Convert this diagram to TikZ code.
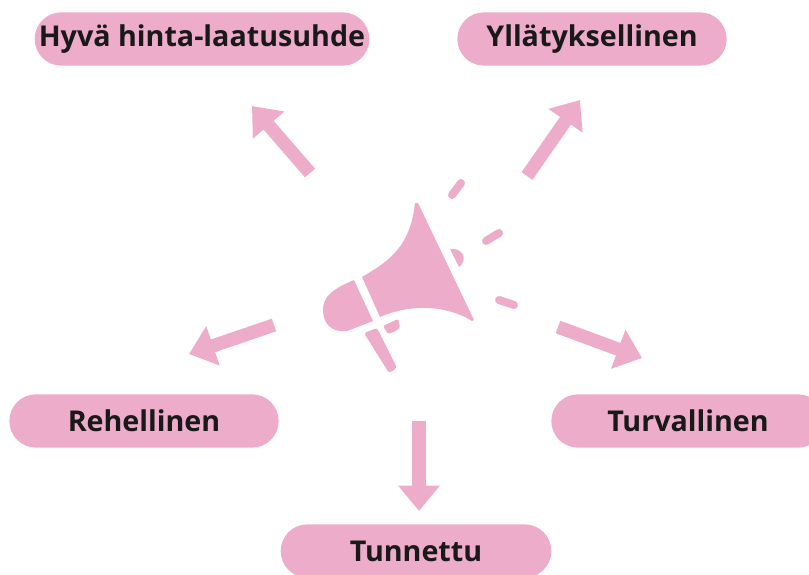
\documentclass[tikz,border=0pt]{standalone}
\usepackage{fontspec}
\setmainfont{Open Sans}
\usepackage{xcolor}
\usetikzlibrary{arrows.meta,positioning,calc,shapes.misc}
\definecolor{mgpink}{HTML}{EEACCB}
\tikzset{
  x=0.75pt, y=-0.75pt,
  pill/.style={rounded rectangle, fill=mgpink, minimum height=40pt, align=center,
    inner sep=0pt, font=\fontsize{21.5pt}{23pt}\selectfont\bfseries, text=black!90},
  bigarrow/.style={-{Triangle[length=19pt,width=30pt]}, line width=10pt, draw=mgpink},
  megaphone/.style={fill=mgpink, draw=none},
  beam/.style={draw=mgpink, line width=6pt, line cap=round}
}
\begin{document}
\begin{tikzpicture}
  \useasboundingbox (0,0) rectangle (809,574);
  % labels
  \node[pill, minimum width=250pt] (hinta) at (202,39) {Hyvä hinta-laatusuhde};
  \node[pill, minimum width=202pt] (yllatys) at (592,39) {Yllätyksellinen};
  \node[pill, minimum width=202pt] (rehell) at (144,421) {Rehellinen};
  \node[pill, minimum width=205pt] (turva) at (688,421) {Turvallinen};
  \node[pill, minimum width=203pt] (tunnettu) at (416,551) {Tunnettu};

  % arrow ends
  \coordinate (a1s) at (310,173); \coordinate (a1e) at (252,106);
  \coordinate (a2s) at (527,176); \coordinate (a2e) at (580,100);
  \coordinate (a3s) at (274,325); \coordinate (a3e) at (189,354);
  \coordinate (a4s) at (558,327); \coordinate (a4e) at (642,358);
  \coordinate (a5s) at (419,421); \coordinate (a5e) at (419,511);

  \draw[bigarrow] (a1s) -- (a1e);
  \draw[bigarrow] (a2s) -- (a2e);
  \draw[bigarrow] (a3s) -- (a3e);
  \draw[bigarrow] (a4s) -- (a4e);
  \draw[bigarrow] (a5s) -- (a5e);

  % megaphone
  \fill[megaphone] (362,277) .. controls (385,263) and (410,250) .. (415,203) -- (418,203) -- (474,320) -- (472,321) .. controls (455,310) and (420,300) .. (380,317) -- cycle;
  \fill[megaphone] (354,280) -- (373,321) -- (347,331) .. controls (330,333) and (323,322) .. (323,310) .. controls (323,298) and (330,290) .. (354,280) -- cycle;
  \fill[megaphone, rounded corners=2pt] (364,333) -- (377,328) -- (397,368) -- (389,373) -- cycle;
  \fill[megaphone, rounded corners=1pt] (383,326) -- (398,319) -- (400,327) -- (396,331) -- (388,334) -- cycle;
  \fill[megaphone] (450,249) .. controls (460,247) and (470,258) .. (459,267) -- cycle;
  \draw[beam] (452,195) -- (461,183);
  \draw[beam] (486,241) -- (499,233);
  \draw[beam] (499,300) -- (514,305);
\end{tikzpicture}
\end{document}
